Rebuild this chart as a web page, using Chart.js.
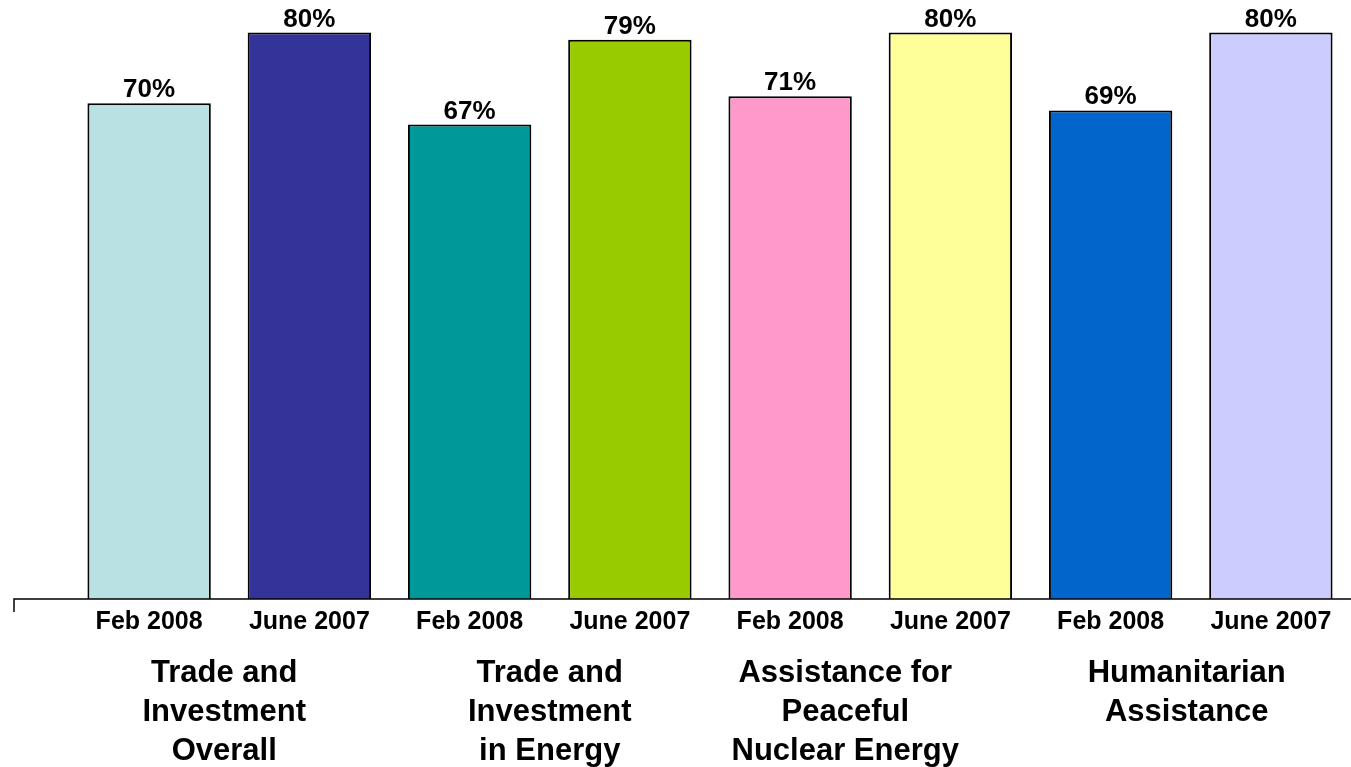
<!DOCTYPE html>
<html>
<head>
<meta charset="utf-8">
<script src="https://cdn.jsdelivr.net/npm/chart.js@4.4.1/dist/chart.umd.min.js"></script>
<style>
  html, body { margin: 0; padding: 0; background: #fff; }
  #wrap { width: 1351px; height: 767px; position: relative; }
</style>
</head>
<body>
<div id="wrap"><canvas id="chart"></canvas></div>
<script>
// Data
const periods = ['Feb 2008', 'June 2007', 'Feb 2008', 'June 2007', 'Feb 2008', 'June 2007', 'Feb 2008', 'June 2007'];
const values = [70, 80, 67, 79, 71, 80, 69, 80];
const barColors = ['#B9E0E3', '#333399', '#009999', '#99CC00', '#FF99CC', '#FFFF99', '#0066CC', '#CCCCFF'];
const groups = [
  ['Trade and', 'Investment', 'Overall'],
  ['Trade and', 'Investment', 'in Energy'],
  ['Assistance for', 'Peaceful', 'Nuclear Energy'],
  ['Humanitarian', 'Assistance']
];

const FONT = '"Liberation Sans", Arial, sans-serif';

// Draws the value labels, the base line and the group captions
const extras = {
  id: 'extras',
  afterDatasetsDraw(chart) {
    const ctx = chart.ctx;
    const meta = chart.getDatasetMeta(0);
    const xs = chart.scales.x;
    const area = chart.chartArea;

    ctx.save();
    ctx.fillStyle = '#000';
    ctx.textAlign = 'center';

    // percentages above bars
    ctx.font = 'bold 26px ' + FONT;
    ctx.textBaseline = 'alphabetic';
    meta.data.forEach((bar, i) => {
      ctx.fillText(values[i] + '%', bar.x, bar.y - 6);
    });

    // base line with the little tick on the left
    ctx.strokeStyle = '#000';
    ctx.lineWidth = 1.5;
    ctx.beginPath();
    ctx.moveTo(14, 612);
    ctx.lineTo(14, area.bottom);
    ctx.lineTo(area.right, area.bottom);
    ctx.stroke();

    // group captions under each pair of bars
    const nudge = [-5, 0, -25, -4];
    ctx.font = 'bold 31px ' + FONT;
    ctx.textBaseline = 'middle';
    groups.forEach((lines, g) => {
      const cx = (xs.getPixelForValue(g * 2) + xs.getPixelForValue(g * 2 + 1)) / 2 + nudge[g];
      lines.forEach((t, k) => {
        ctx.fillText(t, cx, 673 + k * 39);
      });
    });
    ctx.restore();
  }
};

new Chart(document.getElementById('chart'), {
  type: 'bar',
  data: {
    labels: periods,
    datasets: [{
      data: values,
      backgroundColor: barColors,
      borderColor: '#000',
      borderWidth: 2,
      borderSkipped: 'bottom',
      barPercentage: 0.77,
      categoryPercentage: 1
    }]
  },
  options: {
    responsive: true,
    maintainAspectRatio: false,
    animation: false,
    layout: { padding: { left: 69, right: 0, top: 0, bottom: 0 } },
    plugins: {
      legend: { display: false },
      tooltip: { enabled: false },
      title: { display: false }
    },
    scales: {
      y: {
        display: false,
        min: 0,
        max: 84.6
      },
      x: {
        grid: { display: false, drawTicks: false },
        border: { display: false },
        ticks: {
          color: '#000',
          padding: 8,
          maxRotation: 0,
          autoSkip: false,
          font: { family: FONT, size: 25, weight: 'bold' }
        },
        afterFit(scale) { scale.height = 168; }
      }
    }
  },
  plugins: [extras]
});
</script>
</body>
</html>
